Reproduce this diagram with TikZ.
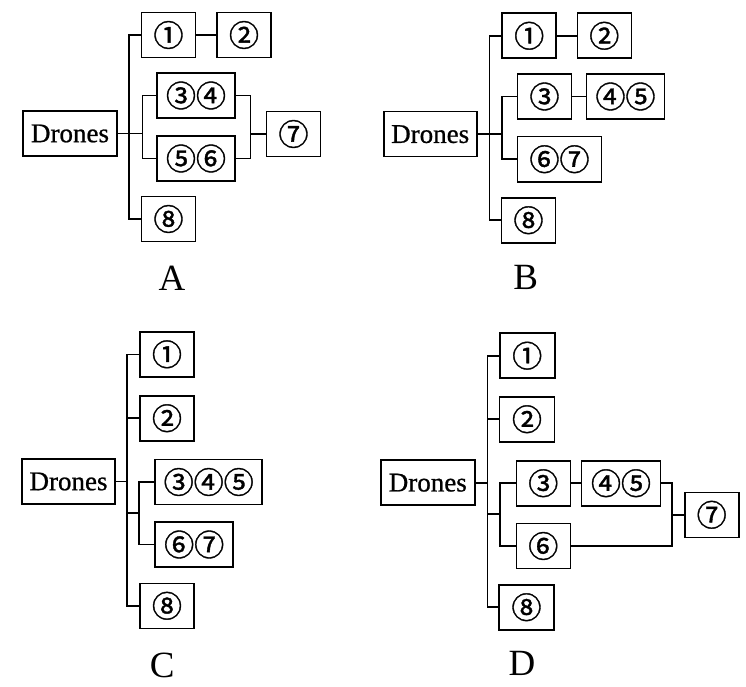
\documentclass[tikz,border=0pt]{standalone}
\usepackage{fontspec}
\newfontfamily\circfont[FakeBold=1.2]{Noto Sans CJK SC}
\newfontfamily\txtfont[FakeBold=0.8]{Liberation Serif}
\newfontfamily\lblfont{Liberation Serif}
\tikzset{
  bx/.style={draw, line width=1.6pt, inner sep=0pt, minimum height=45pt, minimum width=54pt,
             font=\circfont\fontsize{30}{32}\selectfont},
  drbox/.style={bx, minimum width=94pt, font=\txtfont\fontsize{27}{30}\selectfont},
  lbl/.style={font=\lblfont\fontsize{37}{40}\selectfont, inner sep=0pt},
  ln/.style={line width=1.6pt}
}
\begin{document}
\begin{tikzpicture}[x=1pt,y=-1pt]
\useasboundingbox (0,0) rectangle (746,687);
% ---------- A ----------
\node[drbox] (dA) at (70,133.5) {Drones};
\node[bx] (A1) at (168.5,35) {①};
\node[bx] (A2) at (244,35) {②};
\node[bx, minimum width=78pt] (A34) at (196,95.5) {③④};
\node[bx, minimum width=78pt] (A56) at (196,158.5) {⑤⑥};
\node[bx] (A7) at (293.5,134) {⑦};
\node[bx] (A8) at (168.5,219) {⑧};
\coordinate (tA) at (129,0);
\coordinate (sA) at (142.3,0);
\coordinate (rA) at (250.3,0);
\draw[ln] (A1.west) -- (A1.west -| tA) -- (A8.west -| tA) -- (A8.west);
\draw[ln] (dA.east) -- (dA.east -| sA);
\draw[ln] (A34.west) -- (A34.west -| sA) -- (A56.west -| sA) -- (A56.west);
\draw[ln] (A34.east) -- (A34.east -| rA) -- (A56.east -| rA) -- (A56.east);
\draw[ln] (A7.west -| rA) -- (A7.west);
\draw[ln] (A1) -- (A2);
\node[lbl] (lA) at (172,278) {A};
% ---------- B ----------
\node[drbox, minimum width=93pt] (dB) at (430.2,134.2) {Drones};
\node[bx] (B1) at (529.2,35.8) {①};
\node[bx] (B2) at (604.3,35.8) {②};
\node[bx] (B3) at (544.5,96.5) {③};
\node[bx, minimum width=78pt] (B45) at (625.5,96.5) {④⑤};
\node[bx, minimum width=84pt] (B67) at (559.5,159.2) {⑥⑦};
\node[bx] (B8) at (528.5,220.2) {⑧};
\coordinate (tB) at (489.3,0);
\coordinate (sB) at (502,0);
\draw[ln] (B1.west) -- (B1.west -| tB) -- (B8.west -| tB) -- (B8.west);
\draw[ln] (dB.east) -- (dB.east -| sB);
\draw[ln] (B3.west) -- (B3.west -| sB) -- (B67.west -| sB) -- (B67.west);
\draw[ln] (B1) -- (B2);
\draw[ln] (B3) -- (B45);
\node[lbl] (lB) at (525.7,277.7) {B};
% ---------- C ----------
\node[drbox, minimum width=93pt] (dC) at (68.5,481.5) {Drones};
\node[bx] (C1) at (167,354.3) {①};
\node[bx] (C2) at (167,418.2) {②};
\node[bx, minimum width=107pt] (C345) at (208.7,482) {③④⑤};
\node[bx, minimum width=78pt] (C67) at (194.2,544.5) {⑥⑦};
\node[bx] (C8) at (167,605.8) {⑧};
\coordinate (tC) at (126.7,0);
\coordinate (sC) at (139,0);
\coordinate (jC) at (0,513.2);
\draw[ln] (C1.west) -- (C1.west -| tC) -- (C8.west -| tC) -- (C8.west);
\draw[ln] (dC.east) -- (dC.east -| tC);
\draw[ln] (C2.west -| tC) -- (C2.west);
\draw[ln] (jC -| tC) -- (jC -| sC);
\draw[ln] (C345.west) -- (C345.west -| sC) -- (C67.west -| sC) -- (C67.west);
\node[lbl] (lC) at (162.3,665.7) {C};
% ---------- D ----------
\node[drbox] (dD) at (427.8,482.7) {Drones};
\node[bx, minimum width=55pt] (D1) at (527.2,355.7) {①};
\node[bx, minimum width=55pt] (D2) at (527,419.2) {②};
\node[bx] (D3) at (543.3,483.2) {③};
\node[bx, minimum width=79pt] (D45) at (621,483.2) {④⑤};
\node[bx] (D6) at (543.3,546) {⑥};
\node[bx] (D7) at (711.7,514.8) {⑦};
\node[bx, minimum width=55pt] (D8) at (526.5,607.2) {⑧};
\coordinate (tD) at (487.3,0);
\coordinate (sD) at (499.7,0);
\coordinate (rD) at (672,0);
\coordinate (jD) at (0,514.2);
\draw[ln] (D1.west) -- (D1.west -| tD) -- (D8.west -| tD) -- (D8.west);
\draw[ln] (dD.east) -- (dD.east -| tD);
\draw[ln] (D2.west -| tD) -- (D2.west);
\draw[ln] (jD -| tD) -- (jD -| sD);
\draw[ln] (D3.west) -- (D3.west -| sD) -- (D6.west -| sD) -- (D6.west);
\draw[ln] (D3) -- (D45);
\draw[ln] (D45.east) -- (D45.east -| rD) -- (D6.east -| rD) -- (D6.east);
\draw[ln] (D7.west -| rD) -- (D7.west);
\node[lbl] (lD) at (522,663.3) {D};
\end{tikzpicture}
\end{document}
